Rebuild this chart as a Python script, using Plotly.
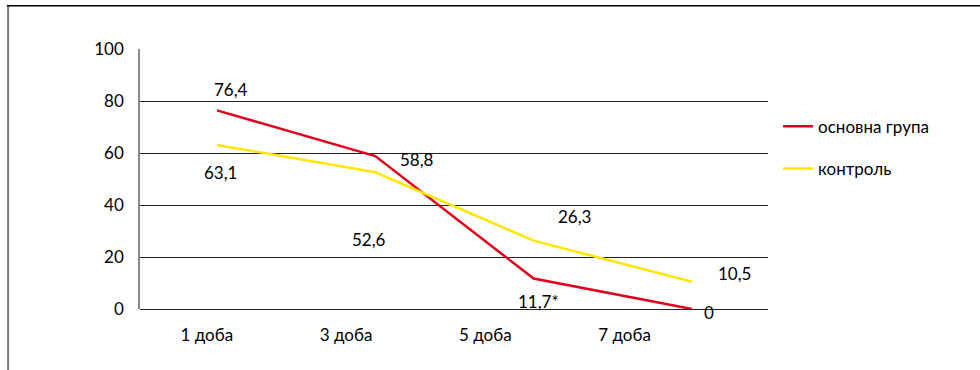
import plotly.graph_objects as go

# Days of observation and percentages per group
days = ["1 доба", "3 доба", "5 доба", "7 доба"]
main_group = [76.4, 58.8, 11.7, 0]
control = [63.1, 52.6, 26.3, 10.5]
main_labels = ["76,4", "58,8", "11,7*", "0"]
control_labels = ["63,1", "52,6", "26,3", "10,5"]
y_ticks = [0, 20, 40, 60, 80, 100]

RED = "#E2001A"
YELLOW = "#FFE600"
FONT = "Lato"

fig = go.Figure()
fig.add_trace(go.Scatter(
    x=list(range(len(days))), y=main_group, mode="lines",
    name="основна група", line=dict(color=RED, width=2.5),
    xaxis="x2", legendgroup="a",
))
fig.add_trace(go.Scatter(
    x=list(range(len(days))), y=control, mode="lines",
    name="контроль", line=dict(color=YELLOW, width=2.5),
    xaxis="x2", legendgroup="b",
))

# value labels offset from their points
main_shift = [(14, 21), (42, -3), (5, -23), (17, -3)]
ctrl_shift = [(4, -28), (-6, -67), (41, 24), (43, 8)]
for i, (v, t) in enumerate(zip(main_group, main_labels)):
    dx, dy = main_shift[i]
    fig.add_annotation(x=i, y=v, xref="x2", yref="y", text=t, showarrow=False,
                       xshift=dx, yshift=dy, font=dict(size=17, color="#000"))
for i, (v, t) in enumerate(zip(control, control_labels)):
    dx, dy = ctrl_shift[i]
    fig.add_annotation(x=i, y=v, xref="x2", yref="y", text=t, showarrow=False,
                       xshift=dx, yshift=dy, font=dict(size=17, color="#000"))

# outer frame
fig.add_shape(type="line", xref="paper", yref="paper", x0=-0.210, x1=-0.210,
              y0=1.166, y1=-0.3, line=dict(color="#7a7a7a", width=2))
fig.add_shape(type="line", xref="paper", yref="paper", x0=-0.212, x1=1.4,
              y0=1.166, y1=1.166, line=dict(color="#000", width=1.5))

fig.update_layout(
    width=980, height=370,
    margin=dict(l=140, r=212, t=49, b=61),
    paper_bgcolor="white", plot_bgcolor="white",
    font=dict(family=FONT, size=17, color="#000"),
    showlegend=True,
    legend=dict(x=1.016, y=0.77, xanchor="left", yanchor="top",
                traceorder="grouped", tracegroupgap=17,
                font=dict(size=17), bgcolor="rgba(0,0,0,0)"),
    xaxis=dict(type="category", categoryarray=days, tickvals=days, ticktext=days,
               range=[-0.48, 4.03], showgrid=False, showline=False, ticks="",
               zeroline=False, ticklabelstandoff=14, fixedrange=True),
    xaxis2=dict(overlaying="x", range=[-0.486, 3.48], visible=False),
    yaxis=dict(range=[0, 100], tickvals=y_ticks, showgrid=True, gridcolor="#222",
               gridwidth=1, showline=True, linecolor="#8a8a8a", linewidth=1.5,
               zeroline=True, zerolinecolor="#222", zerolinewidth=1,
               ticks="", ticklabelstandoff=11),
)
fig.add_trace(go.Scatter(x=days, y=[None] * len(days), xaxis="x", showlegend=False,
                         hoverinfo="skip"))

fig.write_html("out.html")
